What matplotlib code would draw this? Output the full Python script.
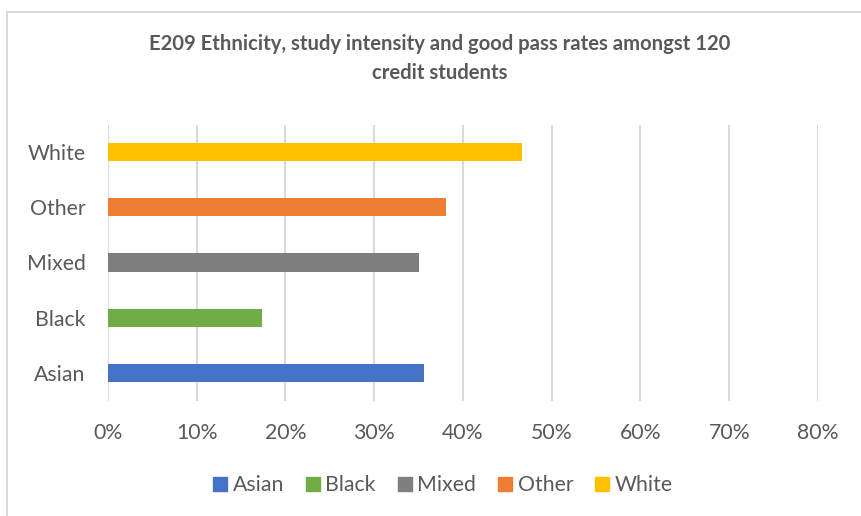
import matplotlib.pyplot as plt
from matplotlib.patches import Rectangle
from matplotlib.lines import Line2D

# Data
categories = ['Asian', 'Black', 'Mixed', 'Other', 'White']
good_pass_rate = [35.6, 17.4, 35.0, 38.1, 46.7]
colours = ['#4472C4', '#70AD47', '#7F7F7F', '#ED7D31', '#FFC000']
x_ticks = [0, 10, 20, 30, 40, 50, 60, 70, 80]
x_tick_labels = [f'{t}%' for t in x_ticks]

plt.rcParams['font.family'] = ['Lato', 'DejaVu Sans']
text_col = '#595959'
grid_col = '#D9D9D9'

W, H = 862, 516
fig = plt.figure(figsize=(W / 100, H / 100), dpi=100)

# chart area border
fig.patches.append(Rectangle((7 / W, -0.1), 2, 1 - 12 / H + 0.1,
                             transform=fig.transFigure, fill=False,
                             edgecolor=grid_col, linewidth=1.5))

ax = fig.add_axes([108 / W, (H - 400.5) / H, 710 / W, 276 / H])

ypos = list(range(len(categories)))
for i, cat in enumerate(categories):
    ax.barh(ypos[i], good_pass_rate[i], height=0.33, color=colours[i],
            label=cat, zorder=3)

ax.set_xlim(0, 80)
ax.set_ylim(-0.5, len(categories) - 0.5)
ax.set_xticks(x_ticks)
ax.set_xticklabels(x_tick_labels)
ax.set_yticks(ypos)
ax.set_yticklabels(categories)
ax.tick_params(axis='x', length=0, pad=16, labelsize=15.3, colors=text_col)
ax.tick_params(axis='y', length=0, pad=16, labelsize=15.3, colors=text_col)
ax.grid(axis='x', color=grid_col, linewidth=1.5, zorder=0)
for s in ax.spines.values():
    s.set_visible(False)

fig.text(440 / W, 1 - 44 / H, 'E209 Ethnicity, study intensity and good pass rates amongst 120',
         ha='center', va='center', fontsize=14.6, fontweight='bold', color=text_col)
fig.text(440 / W, 1 - 73 / H, 'credit students',
         ha='center', va='center', fontsize=14.6, fontweight='bold', color=text_col)

handles = [Line2D([], [], marker='s', linestyle='none', markersize=10,
                  markerfacecolor=c, markeredgecolor=c) for c in colours]
fig.legend(handles, categories, loc='center', bbox_to_anchor=(441 / W, 1 - 485 / H),
           ncol=5, frameon=False, fontsize=15.3, labelcolor=text_col,
           handletextpad=0.1, columnspacing=0.85, handlelength=1.0)

fig.savefig('out.png', dpi=100)
